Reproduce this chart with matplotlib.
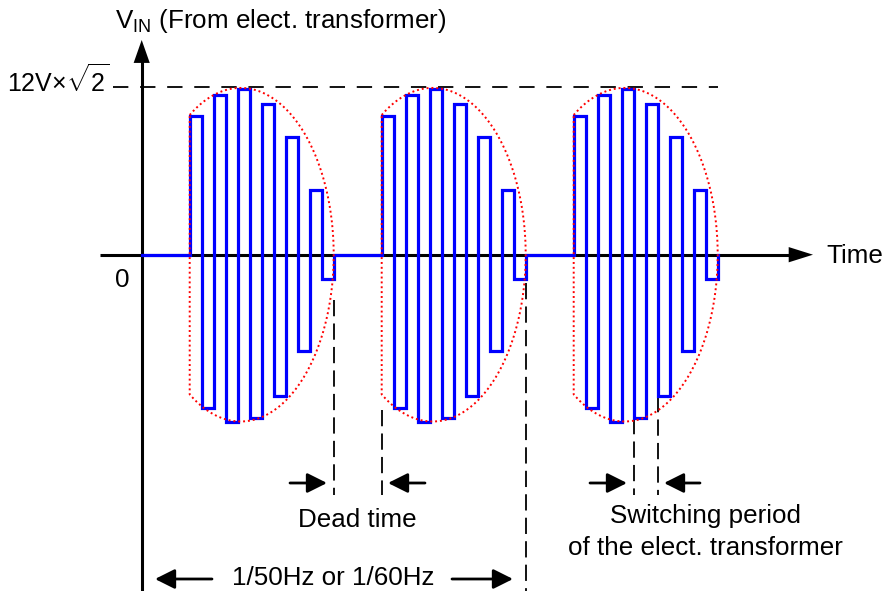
import numpy as np
import matplotlib
matplotlib.use("Agg")
import matplotlib.pyplot as plt
from matplotlib.patches import FancyArrowPatch

plt.rcParams['font.family'] = ['Liberation Sans', 'DejaVu Sans']
plt.rcParams['mathtext.fontset'] = 'custom'
plt.rcParams['mathtext.rm'] = 'Liberation Sans'
plt.rcParams['mathtext.it'] = 'Liberation Sans:italic'
plt.rcParams['mathtext.bf'] = 'Liberation Sans:bold'

# ---------------- data (time in ms, voltage in V) ----------------
burst_starts_ms = [5.0, 25.0, 45.0]          # start of each switching burst
half_period_ms = 1.25                         # half switching period
pulse_amplitudes_V = [14.1, -15.5, 16.2, -17.0, 16.8, -16.5,
                      15.3, -14.3, 11.9, -9.8, 6.6, -2.5]
peak_V = 12 * np.sqrt(2)
mains_period_ms = 20.0
envelope_center_offset_ms = 5.3
envelope_half_width_ms = 9.7
envelope_height_V = 16.9

# ---------------- pixel <-> data mapping ----------------
W, H = 883, 591
X0_PX, PX_PER_MS = 141.7, 9.6
Y0_PX, PX_PER_V = 254.7, 9.87


def P(xp, yp):
    return (xp - X0_PX) / PX_PER_MS, (Y0_PX - yp) / PX_PER_V


fig = plt.figure(figsize=(W / 100, H / 100), dpi=100)
ax = fig.add_axes([0, 0, 1, 1])
ax.set_xlim(P(0, 0)[0], P(W, 0)[0])
ax.set_ylim(P(0, H)[1], P(0, 0)[1])
ax.axis('off')

BLACK = 'black'
FS = 18.7

# ---------------- axes ----------------
x_axis_left = P(100, 0)[0]
x_axis_tip = P(813, 0)[0]
ax.plot([x_axis_left, x_axis_tip - 1.0], [0, 0], color=BLACK, lw=2.2, zorder=3,
        solid_capstyle='butt')
ax.add_patch(FancyArrowPatch((x_axis_tip - 3, 0), (x_axis_tip, 0),
                             arrowstyle='-|>,head_length=1.75,head_width=0.55',
                             mutation_scale=10, color=BLACK, lw=0,
                             shrinkA=0, shrinkB=0, zorder=3))
y_axis_bottom = P(0, H + 2)[1]
y_axis_tip = P(0, 40)[1]
ax.plot([0, 0], [y_axis_bottom, y_axis_tip - 1.0], color=BLACK, lw=2.2, zorder=3,
        solid_capstyle='butt')
ax.add_patch(FancyArrowPatch((0, y_axis_tip - 3), (0, y_axis_tip),
                             arrowstyle='-|>,head_length=1.65,head_width=0.58',
                             mutation_scale=10, color=BLACK, lw=0,
                             shrinkA=0, shrinkB=0, zorder=3))

# ---------------- top dashed line (peak) ----------------
n = len(pulse_amplitudes_V)
burst_len = n * half_period_ms
ax.plot([P(113, 0)[0], burst_starts_ms[-1] + burst_len],
        [peak_V, peak_V], color=BLACK, lw=1.3, dashes=(8.5, 6.5), zorder=2)

# ---------------- square wave ----------------
xs, ys = [0.0], [0.0]
for s in burst_starts_ms:
    xs.append(s); ys.append(0.0)
    for k, a in enumerate(pulse_amplitudes_V):
        t0 = s + k * half_period_ms
        xs += [t0, t0 + half_period_ms]
        ys += [a, a]
    xs.append(s + burst_len); ys.append(0.0)
ax.plot(xs, ys, color='#0000FF', lw=2.3, zorder=4, solid_joinstyle='miter')

# ---------------- envelopes ----------------
for s in burst_starts_ms:
    c = s + envelope_center_offset_ms
    th0 = np.arccos((s - c) / envelope_half_width_ms)
    th = np.linspace(th0, -th0, 300)
    ex = c + envelope_half_width_ms * np.cos(th)
    ey = envelope_height_V * np.sin(th)
    ex = np.append(ex, ex[0]); ey = np.append(ey, ey[0])
    ax.plot(ex, ey, color='#FF0000', lw=1.4, ls=(0, (1, 1.5)), zorder=5)

# ---------------- vertical dashed markers ----------------
vd = dict(color=BLACK, lw=1.3, dashes=(9, 4), zorder=2)
dead_lo = P(0, 495)[1]
ax.plot([burst_starts_ms[0] + burst_len] * 2, [P(0, 300)[1], dead_lo], **vd)
ax.plot([burst_starts_ms[1]] * 2, [P(0, 410)[1], dead_lo], **vd)
ax.plot([burst_starts_ms[1] + burst_len] * 2, [P(0, 283)[1], y_axis_bottom], **vd)
k1, k2 = 5, 7
ax.plot([burst_starts_ms[2] + k1 * half_period_ms] * 2,
        [pulse_amplitudes_V[k1], dead_lo], **vd)
ax.plot([burst_starts_ms[2] + k2 * half_period_ms] * 2,
        [pulse_amplitudes_V[k2], dead_lo], **vd)


# ---------------- small arrows ----------------
def arrow(tail, tip, hl=1.2, hw=0.6, lw=2.0):
    ax.add_patch(FancyArrowPatch(tail, tip,
                                 arrowstyle=f'-|>,head_length={hl},head_width={hw}',
                                 mutation_scale=10, color=BLACK, lw=lw,
                                 shrinkA=0, shrinkB=0, zorder=3))


arrow(P(290, 483), P(327, 483))
arrow(P(425, 483), P(388, 483))
arrow(P(590, 483), P(627, 483))
arrow(P(700, 483), P(664, 483))
arrow(P(212, 579), P(155, 579))
arrow(P(452, 579), P(513, 579))

# ---------------- texts ----------------
ax.text(*P(115, 28), r'V$_{\mathrm{IN}}$ (From elect. transformer)', fontsize=FS,
        ha='left', va='baseline')
ax.text(*P(110, 92), r'12V$\times\sqrt{2}$', fontsize=18.0, ha='right', va='baseline')
ax.text(*P(122, 287), '0', fontsize=FS, ha='center', va='baseline')
ax.text(*P(826, 263), 'Time', fontsize=FS, ha='left', va='baseline')
ax.text(*P(357.5, 527), 'Dead time', fontsize=FS, ha='center', va='baseline')
ax.text(*P(705, 523), 'Switching period', fontsize=FS, ha='center', va='baseline')
ax.text(*P(705.5, 555), 'of the elect. transformer', fontsize=FS, ha='center', va='baseline')
ax.text(*P(333.5, 585), '1/50Hz or 1/60Hz', fontsize=FS, ha='center', va='baseline')

fig.savefig('out.png', dpi=100)
